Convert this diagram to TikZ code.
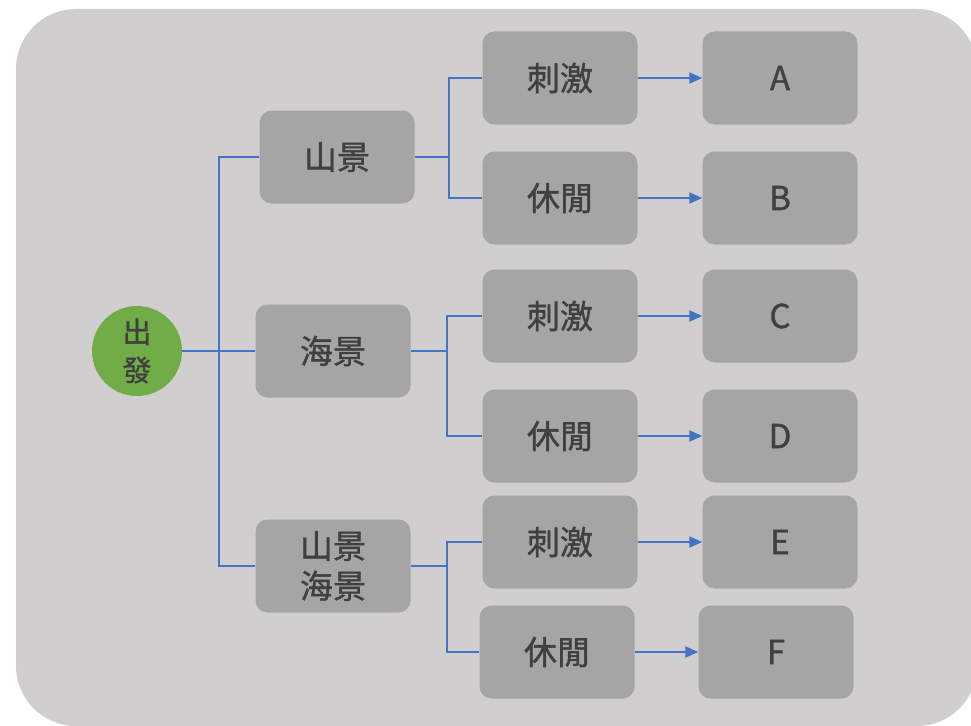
\documentclass[tikz,border=0pt]{standalone}
\usepackage{fontspec}
\setmainfont{Noto Sans CJK TC}
\newfontfamily\heavyfont{Noto Sans CJK TC}[FakeBold=1.2]
\usetikzlibrary{arrows.meta}
\definecolor{bgc}{HTML}{D0CECF}
\definecolor{boxc}{HTML}{A5A5A5}
\definecolor{txtc}{HTML}{404040}
\definecolor{linec}{HTML}{4472C4}
\definecolor{greenc}{HTML}{70AD47}
\tikzset{
  gbox/.style={fill=boxc, rounded corners=12pt, minimum width=155pt, minimum height=93pt, inner sep=0pt, text=txtc, font=\heavyfont\fontsize{33}{40}\selectfont, align=center},
  conn/.style={draw=linec, line width=1.8pt},
  arr/.style={conn, -{Triangle[length=13pt,width=11pt]}},
}
\begin{document}
\begin{tikzpicture}[x=1pt,y=-1pt]
\useasboundingbox (0,0) rectangle (971,725);
\fill[white] (0,0) rectangle (971,725);
\fill[bgc, rounded corners=60pt] (16,9) rectangle (977,726);
% root
\node[circle, fill=greenc, minimum size=90pt, inner sep=0pt, text=txtc, font=\heavyfont\fontsize{29}{38}\selectfont, align=center] (root) at (137,351) {出\\發};
% level 1
\node[gbox] (m) at (337,157) {山景};
\node[gbox] (s) at (333,351) {海景};
\node[gbox, font=\heavyfont\fontsize{33}{40}\selectfont] (ms) at (333,566) {山景\\海景};
% level 2
\node[gbox] (m1) at (560,78) {刺激};
\node[gbox] (m2) at (560,198) {休閒};
\node[gbox] (s1) at (560,316) {刺激};
\node[gbox] (s2) at (560,436) {休閒};
\node[gbox] (t1) at (560,542) {刺激};
\node[gbox] (t2) at (557,652) {休閒};
% level 3
\node[gbox] (A) at (780,78) {A};
\node[gbox] (B) at (780,198) {B};
\node[gbox] (C) at (780,316) {C};
\node[gbox] (D) at (780,436) {D};
\node[gbox] (E) at (780,542) {E};
\node[gbox] (F) at (776,652) {F};
% coordinates
\coordinate (j0) at (219,351);
\coordinate (j1) at (449,157);
\coordinate (j2) at (447,351);
\coordinate (j3) at (447,566);
% connectors from root
\draw[conn] (root.east) -- (s.west);
\draw[conn] (j0) |- (m.west);
\draw[conn] (j0) |- (ms.west);
% level1 -> level2
\draw[conn] (m.east) -- (j1);
\draw[conn] (j1) |- (m1.west);
\draw[conn] (j1) |- (m2.west);
\draw[conn] (s.east) -- (j2);
\draw[conn] (j2) |- (s1.west);
\draw[conn] (j2) |- (s2.west);
\draw[conn] (ms.east) -- (j3);
\draw[conn] (j3) |- (t1.west);
\draw[conn] (j3) |- (t2.west);
% arrows
\draw[arr] (m1) -- (A);
\draw[arr] (m2) -- (B);
\draw[arr] (s1) -- (C);
\draw[arr] (s2) -- (D);
\draw[arr] (t1) -- (E);
\draw[arr] (t2) -- (F);
\end{tikzpicture}
\end{document}
